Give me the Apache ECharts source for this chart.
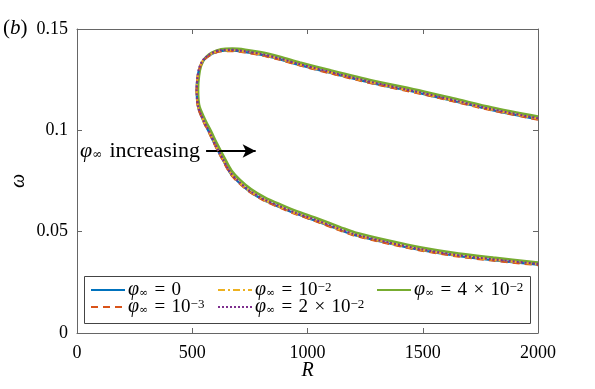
<!DOCTYPE html>
<html>
<head>
<meta charset="UTF-8">
<script src="https://cdn.jsdelivr.net/npm/echarts@6/dist/echarts.min.js"></script>
<style>
  html, body { margin: 0; padding: 0; background: #fff; }
  #chart { width: 595px; height: 389px; }
</style>
</head>
<body>
<div id="chart"></div>
<script>
// neutral curve: upper branch -> nose -> lower branch
var rValues = [2000, 1800, 1650, 1500, 1285, 1100, 967, 880, 800, 730, 670, 620, 577, 548, 532, 523, 519,
               521, 526, 540, 555, 575, 600, 630, 664, 700, 750, 810, 881, 950, 1025, 1141, 1200, 1350, 1488, 1650, 1800, 2000];
var rGreen  = [2000, 1800, 1650, 1500, 1285, 1100, 967, 880, 800, 730, 674, 625, 583, 554, 538, 529, 525,
               527, 532, 546, 561, 581, 606, 636, 670, 706, 756, 816, 887, 956, 1031, 1147, 1206, 1356, 1494, 1656, 1806, 2000];
var omega0   = [0.1055, 0.1100, 0.1140, 0.1180, 0.1232, 0.1283, 0.1322, 0.1350, 0.1372, 0.1386, 0.1393, 0.1391, 0.1372, 0.1345, 0.1310, 0.1262, 0.1200,
                0.1150, 0.1110, 0.1068, 0.1030, 0.0985, 0.0925, 0.0860, 0.0790, 0.0745, 0.0697, 0.0656, 0.0620, 0.0588, 0.0558, 0.0508, 0.0484, 0.0443, 0.0410, 0.0380, 0.0360, 0.0337];
var omega1e3 = [0.1053, 0.1098, 0.1138, 0.1178, 0.1230, 0.1281, 0.1320, 0.1348, 0.1370, 0.1384, 0.1391, 0.1389, 0.1370, 0.1343, 0.1308, 0.1260, 0.1199,
                0.1148, 0.1108, 0.1066, 0.1028, 0.0983, 0.0923, 0.0858, 0.0788, 0.0743, 0.0695, 0.0654, 0.0618, 0.0586, 0.0556, 0.0506, 0.0482, 0.0441, 0.0408, 0.0378, 0.0358, 0.0335];
var omega1e2 = [0.1057, 0.1102, 0.1142, 0.1182, 0.1234, 0.1285, 0.1324, 0.1352, 0.1374, 0.1388, 0.1395, 0.1393, 0.1374, 0.1347, 0.1312, 0.1264, 0.1201,
                0.1152, 0.1112, 0.1070, 0.1032, 0.0987, 0.0927, 0.0862, 0.0792, 0.0747, 0.0699, 0.0658, 0.0622, 0.0590, 0.0560, 0.0510, 0.0486, 0.0445, 0.0412, 0.0382, 0.0362, 0.0339];
var omega2e2 = [0.1059, 0.1104, 0.1144, 0.1184, 0.1236, 0.1287, 0.1326, 0.1354, 0.1376, 0.1390, 0.1397, 0.1395, 0.1376, 0.1349, 0.1314, 0.1266, 0.1202,
                0.1153, 0.1114, 0.1072, 0.1034, 0.0989, 0.0929, 0.0864, 0.0794, 0.0749, 0.0701, 0.0660, 0.0624, 0.0592, 0.0562, 0.0512, 0.0488, 0.0447, 0.0414, 0.0384, 0.0364, 0.0341];
var omega4e2 = [0.1068, 0.1113, 0.1153, 0.1193, 0.1245, 0.1296, 0.1335, 0.1363, 0.1385, 0.1398, 0.1403, 0.1400, 0.1382, 0.1354, 0.1318, 0.1268, 0.1203,
                0.1148, 0.1114, 0.1076, 0.1040, 0.0996, 0.0937, 0.0872, 0.0802, 0.0757, 0.0709, 0.0668, 0.0632, 0.0600, 0.0570, 0.0520, 0.0496, 0.0455, 0.0422, 0.0392, 0.0372, 0.0348];

var xTicks = [0, 500, 1000, 1500, 2000];
var yTickLabels = ['0', '0.05', '0.1', '0.15'];
var legendLabels = {
  'phi0':    '{i|φ}{sub|∞}{t|\u2004=\u20040}',
  'phi1e-3': '{i|φ}{sub|∞}{t|\u2004=\u200410}{sup|−3}',
  'phi1e-2': '{i|φ}{sub|∞}{t|\u2004=\u200410}{sup|−2}',
  'phi2e-2': '{i|φ}{sub|∞}{t|\u2004=\u20042\u2004×\u200410}{sup|−2}',
  'phi4e-2': '{i|φ}{sub|∞}{t|\u2004=\u20044\u2004×\u200410}{sup|−2}'
};
// arrow annotation (data coords)
var arrowFrom = [560, 0.0898];
var arrowTo = [775, 0.0898];

var FONT = 'Liberation Serif';
var AXC = '#666';

function pairs(rs, ws) {
  var out = [];
  for (var i = 0; i < rs.length; i++) out.push([rs[i], ws[i]]);
  return out;
}

var rich = {
  i: { fontFamily: FONT, fontStyle: 'italic', fontSize: 20, lineHeight: 18, color: '#000' },
  t: { fontFamily: FONT, fontSize: 19, lineHeight: 18, color: '#000' },
  sub: { fontFamily: 'DejaVu Serif', fontSize: 11, lineHeight: 10, verticalAlign: 'bottom', color: '#000' },
  sup: { fontFamily: FONT, fontSize: 13, lineHeight: 6, verticalAlign: 'top', color: '#000' }
};

function mkLine(name, data, color, type, width, z) {
  return {
    name: name, type: 'line', data: data, xAxisIndex: 0, yAxisIndex: 0,
    showSymbol: false, symbol: 'none', smooth: 0.3, z: z, animation: false,
    lineStyle: { color: color, width: width, type: type },
    itemStyle: { color: color }
  };
}

var chart = echarts.init(document.getElementById('chart'), null, { renderer: 'canvas' });

var series = [
  mkLine('phi4e-2', pairs(rGreen, omega4e2), '#77AC30', 'solid', 2.6, 2),
  mkLine('phi0', pairs(rValues, omega0), '#0072BD', 'solid', 2.2, 3),
  mkLine('phi1e-3', pairs(rValues, omega1e3), '#D95319', [7, 5], 2.2, 4),
  mkLine('phi1e-2', pairs(rValues, omega1e2), '#EDB120', [7, 3, 2, 3], 2.2, 5),
  mkLine('phi2e-2', pairs(rValues, omega2e2), '#7E2F8E', [2, 2], 2.2, 6)
];
series[1].markLine = {
  silent: true, symbol: ['none', 'arrow'], symbolSize: [10, 13],
  label: { show: false },
  lineStyle: { color: '#000', width: 2, type: 'solid' },
  data: [[{ coord: arrowFrom }, { coord: arrowTo }]]
};

function legendCol(left, names) {
  return {
    left: left, top: 280, orient: 'vertical', itemGap: -3, padding: 0,
    itemWidth: 34, itemHeight: 14, data: names,
    itemStyle: { opacity: 0 },
    textStyle: { fontFamily: FONT, fontSize: 19, color: '#000', padding: [0, 0, 0, -2], rich: rich },
    formatter: function (n) { return legendLabels[n]; }
  };
}

function ticks() {
  return { show: true, inside: true, length: 5, lineStyle: { color: AXC } };
}

chart.setOption({
  animation: false,
  backgroundColor: '#fff',
  grid: { left: 77, right: 57, top: 29, bottom: 56, containLabel: false, outerBoundsMode: 'none' },
  xAxis: [{
    type: 'value', min: 0, max: 2000, interval: 500, position: 'bottom',
    name: 'R', nameLocation: 'middle', nameGap: 28, nameMoveOverlap: false,
    nameTextStyle: { fontFamily: FONT, fontStyle: 'italic', fontSize: 20, color: '#000' },
    axisLine: { show: true, onZero: false, lineStyle: { color: AXC, width: 1 } },
    axisTick: ticks(),
    axisLabel: { fontFamily: FONT, fontSize: 18, color: '#000', margin: 11,
      formatter: function (v) { return xTicks.indexOf(v) >= 0 ? String(v) : ''; } },
    splitLine: { show: false }
  }, {
    type: 'value', min: 0, max: 2000, interval: 500, position: 'top',
    axisLine: { show: true, onZero: false, lineStyle: { color: AXC, width: 1 } },
    axisTick: ticks(), axisLabel: { show: false }, splitLine: { show: false }
  }],
  yAxis: [{
    type: 'value', min: 0, max: 0.15, interval: 0.05, position: 'left',
    name: 'ω', nameLocation: 'middle', nameGap: 48, nameRotate: 90, nameMoveOverlap: false,
    nameTextStyle: { fontFamily: FONT, fontStyle: 'italic', fontSize: 20, color: '#000' },
    axisLine: { show: true, onZero: false, lineStyle: { color: AXC, width: 1 } },
    axisTick: ticks(),
    axisLabel: { fontFamily: FONT, fontSize: 18, color: '#000', margin: 9,
      formatter: function (v) { return yTickLabels[Math.round(v / 0.05)]; } },
    splitLine: { show: false }
  }, {
    type: 'value', min: 0, max: 0.15, interval: 0.05, position: 'right',
    axisLine: { show: true, onZero: false, lineStyle: { color: AXC, width: 1 } },
    axisTick: ticks(), axisLabel: { show: false }, splitLine: { show: false }
  }],
  legend: [
    legendCol(90, ['phi0', 'phi1e-3']),
    legendCol(217, ['phi1e-2', 'phi2e-2']),
    legendCol(376, ['phi4e-2'])
  ],
  graphic: [
    { type: 'rect', left: 84, top: 276, z: 1,
      shape: { width: 446, height: 47 },
      style: { fill: '#fff', stroke: '#444', lineWidth: 1 } },
    { type: 'text', left: 3, top: 18, z: 10,
      style: { text: '({i|b})', fontFamily: FONT, fontSize: 21, fill: '#000',
        rich: { i: { fontFamily: FONT, fontStyle: 'italic', fontSize: 21 } } } },
    { type: 'text', left: 80, top: 140, z: 10,
      style: { text: '{i|φ}{sub|∞}{t|\u2004increasing}', fontFamily: FONT, fontSize: 20, fill: '#000',
        rich: {
          i: { fontFamily: FONT, fontStyle: 'italic', fontSize: 22, lineHeight: 20 },
          t: { fontFamily: FONT, fontSize: 22, lineHeight: 20 },
          sub: { fontFamily: 'DejaVu Serif', fontSize: 12, lineHeight: 6, verticalAlign: 'bottom' }
        } } }
  ],
  series: series
});
</script>
</body>
</html>
